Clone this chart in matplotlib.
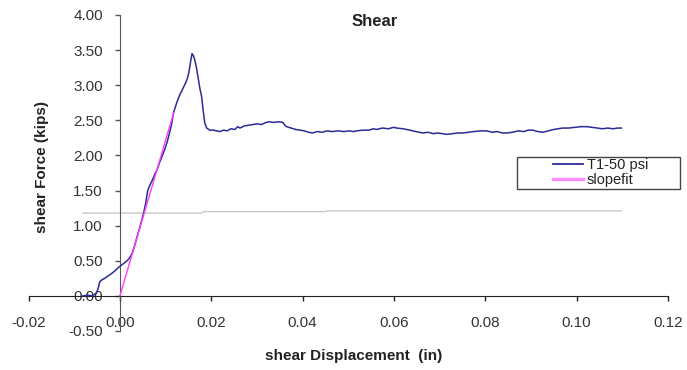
import matplotlib
matplotlib.use("Agg")
import matplotlib.pyplot as plt
from matplotlib.ticker import FuncFormatter
from matplotlib.patches import Rectangle

plt.rcParams['font.family'] = ['Liberation Sans', 'DejaVu Sans']

# T1-50 psi measured curve (displacement in, force kips)
disp = [-0.0081, -0.0070, -0.0062, -0.0056, -0.0051, -0.0047, -0.0044, -0.0039, -0.0033,
        -0.0027, -0.0022, -0.0016, -0.0010, -0.0004, 0.0002, 0.0008, 0.0014, 0.0020,
        0.0025, 0.0028, 0.0033, 0.0038, 0.0043, 0.0048, 0.0052, 0.0056, 0.0059,
        0.0061, 0.0066, 0.0072, 0.0077, 0.0081, 0.0087, 0.0093, 0.0098, 0.0103,
        0.0108, 0.0113, 0.0116, 0.0118, 0.0121, 0.0125, 0.0131, 0.0137, 0.0143,
        0.0147, 0.0151, 0.0155, 0.0158, 0.0161, 0.0164, 0.0168, 0.0172, 0.0175,
        0.0179, 0.0182, 0.0186, 0.0190, 0.0197,
        0.0205, 0.0212, 0.0219, 0.0227, 0.0235, 0.0243, 0.0252, 0.0258, 0.0263,
        0.0272, 0.0282, 0.0291, 0.0300, 0.0310, 0.0320, 0.0328, 0.0337, 0.0347,
        0.0357, 0.0361, 0.0365, 0.0375, 0.0385, 0.0394, 0.0404, 0.0413, 0.0422,
        0.0432, 0.0443, 0.0453, 0.0465, 0.0477, 0.0490, 0.0503, 0.0511, 0.0519,
        0.0532, 0.0545, 0.0555, 0.0562, 0.0575, 0.0588, 0.0599, 0.0606, 0.0620,
        0.0635, 0.0648, 0.0663, 0.0675, 0.0686, 0.0696, 0.0706, 0.0716, 0.0728,
        0.0740, 0.0751, 0.0763, 0.0775, 0.0790, 0.0803, 0.0815, 0.0826, 0.0837,
        0.0847, 0.0860, 0.0872, 0.0884, 0.0894, 0.0904, 0.0915, 0.0926, 0.0938,
        0.0950, 0.0960, 0.0969, 0.0983, 0.0996, 0.1010, 0.1022, 0.1034, 0.1046,
        0.1057, 0.1068, 0.1080, 0.1089, 0.1098]
force = [0.00, 0.01, 0.00, 0.02, 0.04, 0.12, 0.20, 0.23, 0.25,
         0.28, 0.30, 0.33, 0.36, 0.40, 0.43, 0.46, 0.49, 0.53,
         0.58, 0.62, 0.73, 0.85, 0.96, 1.08, 1.18, 1.30, 1.42,
         1.50, 1.58, 1.66, 1.74, 1.79, 1.90, 2.00, 2.08, 2.18,
         2.30, 2.44, 2.55, 2.62, 2.68, 2.76, 2.86, 2.94, 3.02,
         3.08, 3.18, 3.34, 3.45, 3.42, 3.36, 3.24, 3.08, 2.96,
         2.84, 2.66, 2.46, 2.39, 2.36,
         2.36, 2.35, 2.34, 2.36, 2.35, 2.38, 2.37, 2.41, 2.39,
         2.42, 2.43, 2.44, 2.45, 2.44, 2.47, 2.48, 2.47, 2.48,
         2.47, 2.43, 2.41, 2.39, 2.37, 2.36, 2.35, 2.33, 2.32,
         2.34, 2.33, 2.35, 2.34, 2.35, 2.34, 2.35, 2.34, 2.35,
         2.36, 2.36, 2.38, 2.37, 2.39, 2.38, 2.40, 2.39, 2.38,
         2.36, 2.34, 2.32, 2.33, 2.31, 2.32, 2.31, 2.30, 2.31,
         2.32, 2.32, 2.33, 2.34, 2.35, 2.35, 2.33, 2.34, 2.32,
         2.32, 2.33, 2.35, 2.34, 2.36, 2.36, 2.34, 2.33, 2.35,
         2.37, 2.38, 2.39, 2.39, 2.40, 2.41, 2.41, 2.40, 2.39,
         2.38, 2.39, 2.38, 2.39, 2.39]

# slope fit line
fit_disp = [0.0, 0.0118]
fit_force = [0.0, 2.61]

# gray reference line
ref_disp = [-0.0081, 0.0179, 0.0183, 0.0449, 0.0453, 0.1098]
ref_force = [1.18, 1.18, 1.20, 1.20, 1.21, 1.21]

x_ticks = [-0.02, 0.00, 0.02, 0.04, 0.06, 0.08, 0.10, 0.12]
y_ticks = [-0.50, 0.00, 0.50, 1.00, 1.50, 2.00, 2.50, 3.00, 3.50, 4.00]

W, H = 687, 370
fig = plt.figure(figsize=(W / 100, H / 100), dpi=100)
ax = fig.add_axes([28.5 / W, 1 - 331 / H, (668 - 28.5) / W, (331 - 15) / H])

ax.plot(ref_disp, ref_force, color='#c8c8c8', lw=1.0, zorder=1)
ax.plot(disp, force, color='#2b2b96', lw=1.1, label='T1-50 psi', zorder=3)
ax.plot(fit_disp, fit_force, color='#ff3cff', lw=1.0, label='slopefit', zorder=4)

ax.set_xlim(-0.02, 0.12)
ax.set_ylim(-0.5, 4.0)
ax.set_xticks(x_ticks)
ax.set_yticks(y_ticks)
ax.xaxis.set_major_formatter(FuncFormatter(lambda v, p: f"{v:.2f}"))
ax.yaxis.set_major_formatter(FuncFormatter(lambda v, p: f"{v:.2f}"))

for s in ['top', 'right']:
    ax.spines[s].set_visible(False)
ax.spines['left'].set_position(('data', 0))
ax.spines['bottom'].set_position(('data', 0))
ax.spines['left'].set_color('#555555')
ax.spines['bottom'].set_color('#222222')
ax.tick_params(axis='x', direction='out', length=3.6, width=1, pad=11, labelsize=11,
               colors='#222222', labelcolor='#333333')
ax.tick_params(axis='y', direction='out', length=3.6, width=1, pad=8.6, labelsize=11,
               colors='#555555', labelcolor='#333333')

fig.text(374.5 / W, 1 - 21 / H, 'Shear', ha='center', va='center', fontsize=12,
         fontweight='bold', color='#222222')
fig.text(354 / W, 1 - 356 / H, 'shear Displacement  (in)', ha='center', va='center',
         fontsize=11, fontweight='bold', color='#222222')
fig.text(42 / W, 1 - 167 / H, 'shear Force (kips)', ha='center', va='center', rotation=90,
         fontsize=11, fontweight='bold', color='#222222')

# legend box
box = Rectangle((517 / W, 1 - 189 / H), 163 / W, 32 / H,
                transform=fig.transFigure, facecolor='white',
                edgecolor='#444444', lw=1.0, zorder=5, clip_on=False)
ax.add_patch(box)
leg = ax.legend(loc='upper left', bbox_to_anchor=(553 / W, 1 - 158 / H),
                bbox_transform=fig.transFigure, frameon=False,
                fontsize=10.5, handlelength=2.06, handletextpad=0.27,
                borderpad=0.0, labelspacing=0.05, borderaxespad=0)
leg.set_zorder(6)
for t in leg.get_texts():
    t.set_color('#222222')
handles = leg.legend_handles
handles[0].set_linewidth(1.3)
handles[1].set_linewidth(2.4)
handles[1].set_color('#ff8cff')

fig.savefig('out.png', dpi=100)
